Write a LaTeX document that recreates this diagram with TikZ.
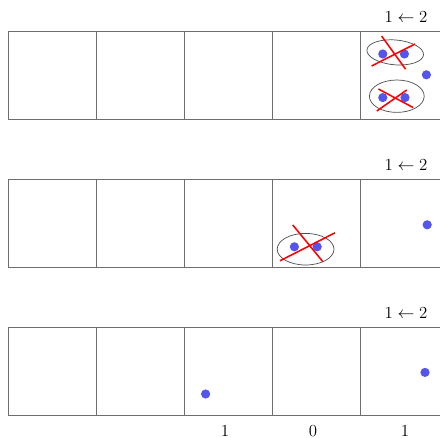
\documentclass[tikz,border=0pt]{standalone}
\usepackage{amsmath,amssymb}
\usepackage{xcolor}
\usepackage{tikz}
\usetikzlibrary{positioning,shapes.geometric}
\definecolor{dotblue}{RGB}{85,85,235}
\definecolor{gridgray}{RGB}{110,110,110}

\begin{document}
\begin{tikzpicture}[
  cell/.style={draw=gridgray, line width=0.6pt, minimum width=2.2cm, minimum height=2.2cm, inner sep=0pt},
  lab/.style={font=\large, align=center},
  pt/.style={circle, fill=dotblue, inner sep=0pt, minimum size=0.23cm},
  pair/.style={ellipse, draw=black!70, line width=0.5pt, inner sep=0pt},
  cross/.style={red, line width=1.1pt}
]
\useasboundingbox (0,0) rectangle (11,-10.95);

% three rows of cells, the last cell runs off the right edge
\foreach \r in {0,1,2} {
  \foreach \c in {0,1,2,3,4} {
    \node[cell] (cell-\r-\c) at ({1.3125+2.2*\c},{-1.8875-3.7*\r}) {};
  }
  \node[lab] (arr-\r) at (10.15,{-0.43-3.7*\r}) {\(1 \leftarrow 2\)};
}

% row 0: two crossed pairs and one single
\node[pair, minimum width=1.42cm, minimum height=0.62cm, rotate=-5] (ovA) at (9.88,-1.31) {};
\node[pt] (a1) at (9.57,-1.35) {};
\node[pt] (a2) at (10.11,-1.35) {};
\draw[cross] (9.54,-0.90) -- (10.14,-1.73);
\draw[cross] (10.375,-1.10) -- (9.29,-1.65);

\node[pair, minimum width=1.37cm, minimum height=0.81cm] (ovB) at (9.92,-2.405) {};
\node[pt] (b1) at (9.57,-2.44) {};
\node[pt] (b2) at (10.125,-2.44) {};
\draw[cross] (9.46,-2.225) -- (10.33,-2.69);
\draw[cross] (10.17,-2.25) -- (9.42,-2.775);

\node[pt] (s0) at (10.66,-1.87) {};

% row 1: one crossed pair, one single
\node[pair, minimum width=1.42cm, minimum height=0.79cm] (ovC) at (7.64,-6.23) {};
\node[pt] (c1) at (7.36,-6.17) {};
\node[pt] (c2) at (7.93,-6.17) {};
\draw[cross] (7.32,-5.625) -- (8.07,-6.54);
\draw[cross] (8.375,-5.82) -- (7.0,-6.52);

\node[pt] (s1) at (10.68,-5.62) {};

% row 2: two singles
\node[pt] (d1) at (5.14,-9.85) {};
\node[pt] (s2) at (10.625,-9.31) {};

% counts under the last row
\node[lab] (cnt-2) at (5.625,-10.77) {1};
\node[lab] (cnt-3) at (7.825,-10.77) {0};
\node[lab] (cnt-4) at (10.125,-10.77) {1};
\end{tikzpicture}
\end{document}
